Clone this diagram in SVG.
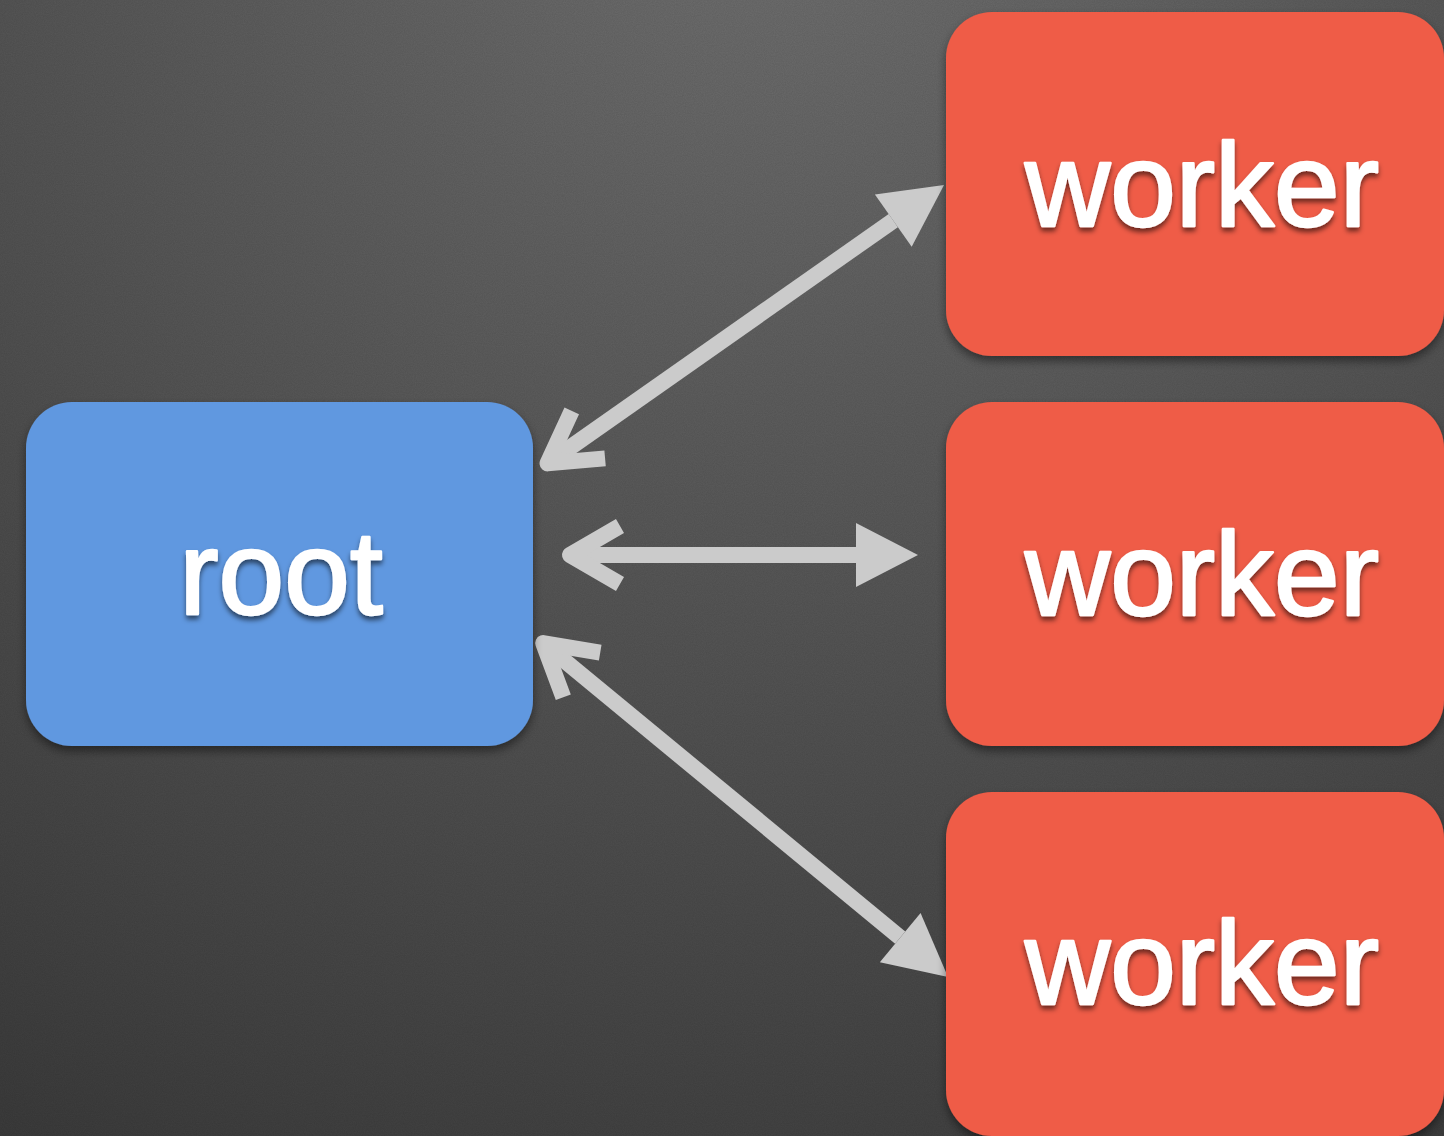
<svg xmlns="http://www.w3.org/2000/svg" width="1444" height="1136" viewBox="0 0 1444 1136">
  <defs>
    <radialGradient id="bg" cx="780" cy="-150" r="1500" gradientUnits="userSpaceOnUse">
      <stop offset="0" stop-color="#727272"/>
      <stop offset="0.4" stop-color="#5c5c5c"/>
      <stop offset="1" stop-color="#3b3b3b"/>
    </radialGradient>
    <filter id="boxShadow" x="-10%" y="-10%" width="120%" height="130%">
      <feDropShadow dx="0" dy="5" stdDeviation="5" flood-color="#000" flood-opacity="0.45"/>
    </filter>
    <filter id="textShadow" x="-10%" y="-20%" width="120%" height="150%">
      <feDropShadow dx="0" dy="4" stdDeviation="2.5" flood-color="#000" flood-opacity="0.55"/>
    </filter>
    <filter id="grain" x="0" y="0" width="100%" height="100%">
      <feTurbulence type="fractalNoise" baseFrequency="0.9" numOctaves="2" seed="3" result="n"/>
      <feColorMatrix in="n" type="matrix" values="0 0 0 0 0  0 0 0 0 0  0 0 0 0 0  0 0 0 0.12 0"/>
    </filter>
    <marker id="tri" markerUnits="userSpaceOnUse" orient="auto" refX="0" refY="0" markerWidth="64" markerHeight="64" overflow="visible">
      <path d="M0,-32 L62,0 L0,32 Z" fill="#cbcbcb"/>
    </marker>
    <marker id="chev" markerUnits="userSpaceOnUse" orient="auto-start-reverse" refX="0" refY="0" markerWidth="64" markerHeight="64" overflow="visible">
      <path d="M-50,-29 L0,0 L-50,29" fill="none" stroke="#cbcbcb" stroke-width="16" stroke-linejoin="round"/>
    </marker>
  </defs>
  <style>
    .root { fill: #6198e0; }
    .worker { fill: #ef5b47; }
    .label { font-family: "Liberation Sans", Arial, Helvetica, sans-serif; font-size: 118px; fill: #ffffff; stroke: #ffffff; stroke-width: 2.5; stroke-linejoin: round; text-anchor: middle; }
    .conn { stroke: #cbcbcb; stroke-width: 16; fill: none; marker-start: url(#chev); marker-end: url(#tri); }
  </style>
  <rect x="0" y="0" width="1444" height="1136" fill="url(#bg)"/>
  <rect x="0" y="0" width="1444" height="1136" filter="url(#grain)"/>

  <g id="connectors">
    <line class="conn" x1="547.5" y1="463.4" x2="893.3" y2="220.6"/>
    <line class="conn" x1="570" y1="555" x2="856" y2="555"/>
    <line class="conn" x1="543.2" y1="643.1" x2="900.2" y2="937.6"/>
  </g>

  <g id="root">
    <rect class="root" x="26" y="402" width="507" height="344" rx="46" filter="url(#boxShadow)"/>
    <text class="label" x="281" y="614" filter="url(#textShadow)">root</text>
  </g>
  <g id="worker1">
    <rect class="worker" x="946" y="12" width="498" height="344" rx="46" filter="url(#boxShadow)"/>
    <text class="label" x="1202" y="226" filter="url(#textShadow)">worker</text>
  </g>
  <g id="worker2">
    <rect class="worker" x="946" y="402" width="498" height="344" rx="46" filter="url(#boxShadow)"/>
    <text class="label" x="1202" y="615" filter="url(#textShadow)">worker</text>
  </g>
  <g id="worker3">
    <rect class="worker" x="946" y="792" width="498" height="344" rx="46" filter="url(#boxShadow)"/>
    <text class="label" x="1202" y="1004" filter="url(#textShadow)">worker</text>
  </g>
</svg>
